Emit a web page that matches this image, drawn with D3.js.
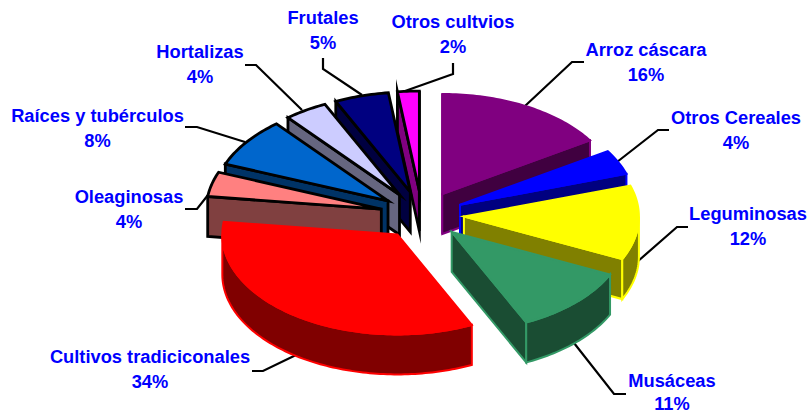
<!DOCTYPE html>
<html lang="es">
<head>
<meta charset="utf-8">
<script src="https://cdn.jsdelivr.net/npm/d3@7/dist/d3.min.js"></script>
<style>html,body{margin:0;padding:0;background:#fff}svg{display:block}text{font-family:"Liberation Sans",Arial,sans-serif;font-weight:bold;fill:#0000ff;font-size:18.3px;text-anchor:middle}</style>
</head>
<body>
<svg id="chart" width="809" height="414"></svg>
<script>
const categories = ["Arroz cáscara","Otros Cereales","Leguminosas","Musáceas","Cultivos tradiciconales","Oleaginosas","Raíces y tubérculos","Hortalizas","Frutales","Otros cultvios"];
const values = [16,4,12,11,34,4,8,4,5,2];
const topColors = ["#800080","#0000ff","#ffff00","#339966","#ff0000","#ff8080","#0066cc","#ccccff","#000080","#ff00ff"];
const sideColors = ["#400040","#000080","#808000","#1a4d33","#800000","#804040","#003366","#666680","#000040","#800080"];
const strokeColors = ["#800080","#0000ff","#ffff00","#339966","#ff0000","#000000","#000000","#000000","#000000","#000000"];
const drawOrder = [0,1,2,3,9,8,7,6,5,4];
const labelAnchors = [[646,56],[736,124],[748,220],[672,386.5],[150,363],[129,203],[97.5,122],[200,58],[323,24],[453,28]];
const lineGaps = [25,25,25,23.5,25,25,25,25,25,25];
const leaders = [
 [[525,106],[572,62],[584,62]],
 [[617,162],[658,130],[669,130]],
 [[637,262],[677,227],[688,227]],
 [[574,343],[614,394],[626,394]],
 [[296,355],[263,371],[252,371]],
 [[208,195],[197,209],[185,209]],
 [[245,142],[197,127],[185,127]],
 [[302,110],[256,65],[245,65]],
 [[362,95],[323,69],[323,58]],
 [[405,91],[453,74],[453,63]]
];
const explode = 0.24, depth = 40;

const svg = d3.select("#chart");
const x = d3.scaleLinear().domain([-1,1]).range([422-175,422+175]);
const y = d3.scaleLinear().domain([-1,1]).range([215+100,215-100]);
const arcs = d3.pie().sort(null).value(d=>d)(values);
const line = d3.line();

function project(a, r, m){
  return [x(r*Math.sin(a)+explode*Math.sin(m)), y(r*Math.cos(a)+explode*Math.cos(m))];
}
function rimBetween(a0,a1,m){
  const n=Math.max(2,Math.ceil((a1-a0)/0.02));
  return d3.range(n+1).map(i=>project(a0+(a1-a0)*i/n,1,m));
}
const down = p=>[p[0],p[1]+depth];

svg.append("g").selectAll("path").data(leaders).join("path")
  .attr("d",line).attr("fill","none").attr("stroke","#000").attr("stroke-width",2.2);

drawOrder.forEach(i=>{
  const d=arcs[i], m=(d.startAngle+d.endAngle)/2;
  const g=svg.append("g").attr("stroke",strokeColors[i]).attr("stroke-width",i<5?2:2.8).attr("stroke-linejoin","miter").attr("stroke-miterlimit",12);
  const rim=rimBetween(d.startAngle,d.endAngle,m), apex=project(0,0,m);
  const first=rim[0], last=rim[rim.length-1];
  const faces=[];
  if(Math.sin(d.startAngle)<=1e-9) faces.push([apex,first,down(first),down(apex)]);
  if(Math.sin(d.endAngle)>0) faces.push([apex,last,down(last),down(apex)]);
  const w0=Math.max(d.startAngle,Math.PI/2), w1=Math.min(d.endAngle,Math.PI*1.5);
  if(w1>w0){
    const wall=rimBetween(w0,w1,m);
    faces.push(wall.concat(wall.map(down).reverse()));
  }
  faces.forEach(f=>g.append("path").attr("d",line(f)+"Z").attr("fill",sideColors[i]));
  g.append("path").attr("d",line([apex].concat(rim))+"Z").attr("fill",topColors[i]);
});

const labels=svg.append("g").selectAll("text").data(categories).join("text")
  .attr("x",(d,i)=>labelAnchors[i][0]).attr("y",(d,i)=>labelAnchors[i][1]);
labels.append("tspan").text(d=>d);
labels.append("tspan").attr("x",(d,i)=>labelAnchors[i][0]).attr("dy",(d,i)=>lineGaps[i]).text((d,i)=>values[i]+"%");
</script>
</body>
</html>
